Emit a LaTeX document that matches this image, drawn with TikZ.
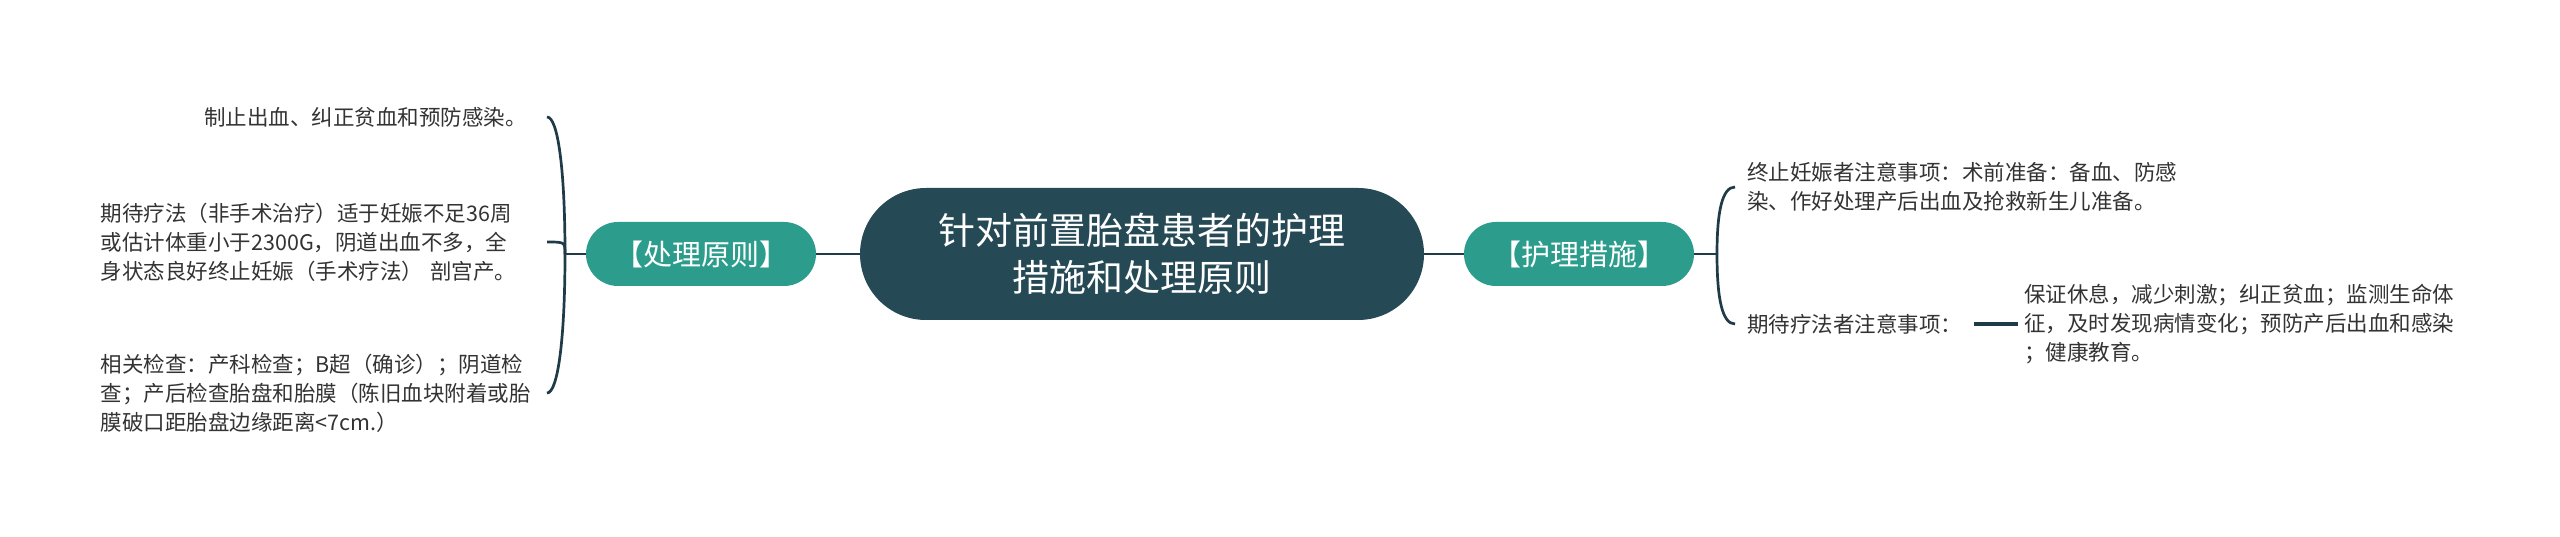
\documentclass[tikz,border=0pt]{standalone}
\usepackage{fontspec}
\setmainfont{Noto Sans CJK SC}
\definecolor{rootc}{HTML}{264A55}
\definecolor{tealc}{HTML}{2C9D8C}
\definecolor{linec}{HTML}{1E3B47}
\definecolor{txt}{HTML}{333333}
\begin{document}
\begin{tikzpicture}[x=1pt,y=-1pt,
  rootbox/.style={fill=rootc, text=white, rounded corners=66pt, minimum width=564pt, minimum height=132pt, font=\fontsize{37}{47}\selectfont, align=center},
  branchbox/.style={fill=tealc, text=white, rounded corners=32pt, minimum width=230pt, minimum height=64pt, font=\fontsize{29}{34}\selectfont},
  leaf/.style={text=txt, font=\fontsize{21.5}{29}\selectfont, align=left, inner ysep=0pt},
  conn/.style={draw=linec, line width=2.7pt}]
\useasboundingbox (0,0) rectangle (2560,537);
\fill[white] (0,0) rectangle (2560,537);

\node[rootbox] (root) at (1142,254) {针对前置胎盘患者的护理\\措施和处理原则};
\node[branchbox] (b1) at (701,254) {【处理原则】};
\node[branchbox] (b2) at (1579,254) {【护理措施】};

\node[leaf, anchor=east, inner xsep=20pt] (l1) at (547,117) {制止出血、纠正贫血和预防感染。};
\node[leaf, anchor=east, inner xsep=0pt, text width=446pt] (l2) at (547,242) {期待疗法（非手术治疗）适于妊娠不足36周\\或估计体重小于2300G，阴道出血不多，全\\身状态良好终止妊娠（手术疗法） 剖宫产。};
\node[leaf, anchor=east, inner xsep=0pt, text width=446pt] (l3) at (547,393) {相关检查：产科检查；B超（确诊）；阴道检\\查；产后检查胎盘和胎膜（陈旧血块附着或胎\\膜破口距胎盘边缘距离<7cm.）};

\node[leaf, anchor=west, inner xsep=12pt] (r1) at (1735,187) {终止妊娠者注意事项：术前准备：备血、防感\\染、作好处理产后出血及抢救新生儿准备。};
\node[leaf, anchor=west, inner xsep=12pt] (r2) at (1735,324) {期待疗法者注意事项：};
\node[leaf, anchor=west, inner xsep=0pt] (r3) at (2024,324) {保证休息，减少刺激；纠正贫血；监测生命体\\征，及时发现病情变化；预防产后出血和感染\\；健康教育。};

\draw[conn] (root.west) -- (b1.east);
\draw[conn] (root.east) -- (b2.west);

\coordinate (lj) at (565,254);
\draw[conn] (b1.west) -- (lj);
\draw[conn] (lj) .. controls (565,170) and (558,117) .. (l1.east);
\draw[conn] (lj) .. controls (565,242) .. (l2.east);
\draw[conn] (lj) .. controls (565,338) and (558,393) .. (l3.east);

\coordinate (rj) at (1717,254);
\draw[conn] (b2.east) -- (rj);
\draw[conn] (rj) .. controls (1717,212) and (1722,187) .. (r1.west);
\draw[conn] (rj) .. controls (1717,298) and (1722,324) .. (r2.west);
\draw[conn, line width=3.8pt] (r2.east) -- ([xshift=-6pt]r3.west);
\end{tikzpicture}
\end{document}
